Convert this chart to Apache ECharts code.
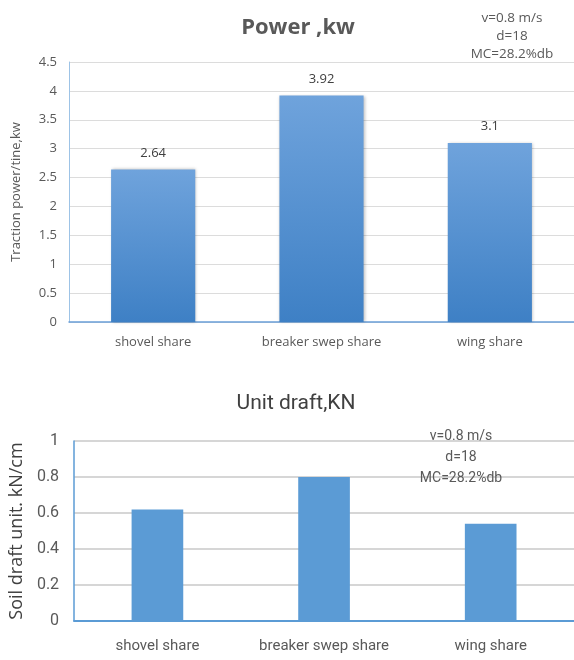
<!DOCTYPE html>
<html>
<head>
<meta charset="utf-8">
<script src="https://cdn.jsdelivr.net/npm/echarts@6/dist/echarts.min.js"></script>
<style>html,body{margin:0;padding:0;background:#fff}#c{width:574px;height:660px}</style>
</head>
<body>
<div id="c"></div>
<script>
const categories = ['shovel share', 'breaker swep share', 'wing share'];
const powerValues = [2.64, 3.92, 3.1];
const draftValues = [0.62, 0.80, 0.54];
const powerTicks = {min: 0, max: 4.5, interval: 0.5};
const draftTicks = {min: 0, max: 1, interval: 0.2};
const noteLines = ['v=0.8 m/s', 'd=18', 'MC=28.2%db'];

const chart = echarts.init(document.getElementById('c'), null, {renderer: 'canvas'});
const F1 = '"Open Sans", "Noto Sans", sans-serif';
const F2 = 'Roboto, "Open Sans", sans-serif';

function noteGraphics(cx, y0, step, font, size) {
  return noteLines.map((t, i) => ({
    type: 'text', x: cx, y: y0 + i * step, z: 100,
    style: {text: t, textAlign: 'center', textVerticalAlign: 'middle',
      fontFamily: font, fontSize: size, fill: '#595959'}
  }));
}

chart.setOption({
  animation: false,
  backgroundColor: '#ffffff',
  title: [
    {text: 'Power ,kw', left: 293, top: 12, textAlign: 'center',
     textStyle: {fontFamily: F1, fontWeight: 'bold', fontSize: 22, color: '#595959'}},
    {text: 'Unit draft,KN', left: 291, top: 388, textAlign: 'center',
     textStyle: {fontFamily: F2, fontWeight: 'normal', fontSize: 21, color: '#404040'}}
  ],
  graphic: noteGraphics(512, 18, 18, F1, 13.5).concat(noteGraphics(461, 436, 21, F2, 14)),
  grid: [
    {left: 69, top: 62, width: 508, height: 260},
    {left: 70, top: 441, width: 508, height: 180}
  ],
  xAxis: [
    {type: 'category', gridIndex: 0, data: categories,
     axisLine: {lineStyle: {color: '#6a9fd8', width: 1.5}}, axisTick: {show: false},
     axisLabel: {interval: 0, fontFamily: F1, fontSize: 13, color: '#595959', margin: 14}},
    {type: 'category', gridIndex: 1, data: categories,
     axisLine: {lineStyle: {color: '#5b9bd5', width: 2}}, axisTick: {show: false},
     axisLabel: {interval: 0, fontFamily: F2, fontSize: 15, color: '#595959', margin: 18}}
  ],
  yAxis: [
    {type: 'value', gridIndex: 0, min: powerTicks.min, max: powerTicks.max, interval: powerTicks.interval,
     name: 'Traction power/tine,kw', nameLocation: 'middle', nameGap: 46,
     nameTextStyle: {fontFamily: F1, fontSize: 13, color: '#595959'},
     axisLine: {show: true, lineStyle: {color: '#9dc3e6', width: 1}}, axisTick: {show: false},
     axisLabel: {fontFamily: F1, fontSize: 13, color: '#595959', margin: 12},
     splitLine: {lineStyle: {color: '#dcdcdc', width: 1}}},
    {type: 'value', gridIndex: 1, min: draftTicks.min, max: draftTicks.max, interval: draftTicks.interval,
     name: 'Soil draft unit. kN/cm', nameLocation: 'middle', nameGap: 44,
     nameTextStyle: {fontFamily: F1, fontSize: 18, color: '#404040'},
     axisLine: {show: true, lineStyle: {color: '#5b9bd5', width: 1.5}}, axisTick: {show: false},
     axisLabel: {fontFamily: F2, fontSize: 16, color: '#595959', margin: 15},
     splitLine: {lineStyle: {color: '#c8c8c8', width: 1.5}}}
  ],
  series: [
    {type: 'bar', xAxisIndex: 0, yAxisIndex: 0, data: powerValues, barWidth: '50%',
     itemStyle: {
       color: new echarts.graphic.LinearGradient(0, 0, 0, 1, [
         {offset: 0, color: '#6fa3dc'}, {offset: 1, color: '#3e80c5'}]),
       shadowColor: 'rgba(0,0,0,0.25)', shadowBlur: 3, shadowOffsetX: 1, shadowOffsetY: 0
     },
     label: {show: true, position: 'top', distance: 10, fontFamily: F1, fontSize: 13, color: '#404040'}},
    {type: 'bar', xAxisIndex: 1, yAxisIndex: 1, data: draftValues, barWidth: '31%',
     itemStyle: {color: '#5b9bd5'}}
  ]
});
</script>
</body>
</html>
